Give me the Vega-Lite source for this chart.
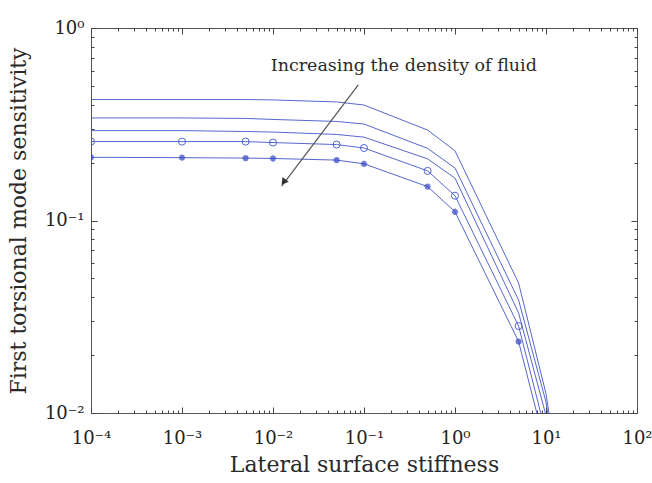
{
  "$schema": "https://vega.github.io/schema/vega-lite/v6.json",
  "autosize": {"type": "none"},
  "padding": {"left": 91, "top": 28, "right": 15, "bottom": 70},
  "width": 546,
  "height": 385,
  "background": "white",
  "config": {
    "view": {"stroke": "#555", "strokeWidth": 1},
    "axis": {
      "grid": false,
      "domain": true,
      "domainOpacity": 0,
      "ticks": true,
      "tickColor": "#444",
      "tickWidth": 1,
      "tickOpacity": 1,
      "labelFont": "DejaVu Serif",
      "titleFont": "DejaVu Serif",
      "labelColor": "#222",
      "titleColor": "#2a2a2a",
      "titleFontWeight": "normal"
    }
  },
  "datasets": {
    "curves": [
      {"x": 0.0001, "y": 0.425, "c": 1, "m": "none"},
      {"x": 0.001, "y": 0.425, "c": 1, "m": "none"},
      {"x": 0.005, "y": 0.425, "c": 1, "m": "none"},
      {"x": 0.01, "y": 0.423, "c": 1, "m": "none"},
      {"x": 0.05, "y": 0.413, "c": 1, "m": "none"},
      {"x": 0.1, "y": 0.398, "c": 1, "m": "none"},
      {"x": 0.5, "y": 0.295, "c": 1, "m": "none"},
      {"x": 1, "y": 0.23, "c": 1, "m": "none"},
      {"x": 5, "y": 0.0473, "c": 1, "m": "none"},
      {"x": 10, "y": 0.0126, "c": 1, "m": "none"},
      {"x": 100, "y": 0.00001, "c": 1, "m": "none"},
      {"x": 0.0001, "y": 0.341, "c": 2, "m": "none"},
      {"x": 0.001, "y": 0.341, "c": 2, "m": "none"},
      {"x": 0.005, "y": 0.339, "c": 2, "m": "none"},
      {"x": 0.01, "y": 0.335, "c": 2, "m": "none"},
      {"x": 0.05, "y": 0.327, "c": 2, "m": "none"},
      {"x": 0.1, "y": 0.317, "c": 2, "m": "none"},
      {"x": 0.5, "y": 0.237, "c": 2, "m": "none"},
      {"x": 1, "y": 0.1875, "c": 2, "m": "none"},
      {"x": 5, "y": 0.0386, "c": 2, "m": "none"},
      {"x": 10, "y": 0.0114, "c": 2, "m": "none"},
      {"x": 100, "y": 0.00001, "c": 2, "m": "none"},
      {"x": 0.0001, "y": 0.293, "c": 3, "m": "none"},
      {"x": 0.001, "y": 0.293, "c": 3, "m": "none"},
      {"x": 0.005, "y": 0.29, "c": 3, "m": "none"},
      {"x": 0.01, "y": 0.288, "c": 3, "m": "none"},
      {"x": 0.05, "y": 0.28, "c": 3, "m": "none"},
      {"x": 0.1, "y": 0.271, "c": 3, "m": "none"},
      {"x": 0.5, "y": 0.209, "c": 3, "m": "none"},
      {"x": 1, "y": 0.166, "c": 3, "m": "none"},
      {"x": 5, "y": 0.0331, "c": 3, "m": "none"},
      {"x": 10, "y": 0.0097, "c": 3, "m": "none"},
      {"x": 100, "y": 0.00001, "c": 3, "m": "none"},
      {"x": 0.0001, "y": 0.257, "c": 4, "m": "circle"},
      {"x": 0.001, "y": 0.257, "c": 4, "m": "circle"},
      {"x": 0.005, "y": 0.257, "c": 4, "m": "circle"},
      {"x": 0.01, "y": 0.254, "c": 4, "m": "circle"},
      {"x": 0.05, "y": 0.248, "c": 4, "m": "circle"},
      {"x": 0.1, "y": 0.238, "c": 4, "m": "circle"},
      {"x": 0.5, "y": 0.181, "c": 4, "m": "circle"},
      {"x": 1, "y": 0.1345, "c": 4, "m": "circle"},
      {"x": 5, "y": 0.0283, "c": 4, "m": "circle"},
      {"x": 10, "y": 0.0078, "c": 4, "m": "circle"},
      {"x": 100, "y": 0.00001, "c": 4, "m": "circle"},
      {"x": 0.0001, "y": 0.213, "c": 5, "m": "star"},
      {"x": 0.001, "y": 0.212, "c": 5, "m": "star"},
      {"x": 0.005, "y": 0.211, "c": 5, "m": "star"},
      {"x": 0.01, "y": 0.21, "c": 5, "m": "star"},
      {"x": 0.05, "y": 0.206, "c": 5, "m": "star"},
      {"x": 0.1, "y": 0.197, "c": 5, "m": "star"},
      {"x": 0.5, "y": 0.15, "c": 5, "m": "star"},
      {"x": 1, "y": 0.111, "c": 5, "m": "star"},
      {"x": 5, "y": 0.0235, "c": 5, "m": "star"},
      {"x": 10, "y": 0.0065, "c": 5, "m": "star"},
      {"x": 100, "y": 0.00001, "c": 5, "m": "star"}
    ],
    "note": [
      {"x": 0.00944, "y": 0.635, "label": "Increasing the density of fluid"}
    ],
    "arrow": [
      {"x": 0.0865, "y": 0.506, "x2": 0.01247, "y2": 0.151, "hx": 0.0133, "hy": 0.16}
    ]
  },
  "resolve": {"axis": {"x": "independent", "y": "independent"}},
  "layer": [
    {
      "data": {"name": "curves"},
      "mark": {"type": "line", "clip": true, "color": "#4356c8", "strokeWidth": 1, "opacity": 0.9},
      "encoding": {
        "x": {
          "field": "x", "type": "quantitative",
          "scale": {"type": "log", "domain": [0.0001, 100]},
          "axis": {
            "orient": "bottom",
            "offset": -6,
            "values": [0.0001, 0.001, 0.01, 0.1, 1, 10, 100],
            "labelExpr": "round(log(datum.value)/LN10) == -4 ? '10⁻⁴' : round(log(datum.value)/LN10) == -3 ? '10⁻³' : round(log(datum.value)/LN10) == -2 ? '10⁻²' : round(log(datum.value)/LN10) == -1 ? '10⁻¹' : round(log(datum.value)/LN10) == 0 ? '10⁰' : round(log(datum.value)/LN10) == 1 ? '10¹' : '10²'",
            "tickSize": 6,
            "labelPadding": 16,
            "labelFontSize": 18,
            "labelFlush": false,
            "title": "Lateral surface stiffness",
            "titleFontSize": 22,
            "titlePadding": 7
          }
        },
        "y": {
          "field": "y", "type": "quantitative",
          "scale": {"type": "log", "domain": [0.01, 1]},
          "axis": {
            "orient": "left",
            "offset": -6,
            "values": [0.01, 0.1, 1],
            "labelExpr": "round(log(datum.value)/LN10) == -2 ? '10⁻²' : round(log(datum.value)/LN10) == -1 ? '10⁻¹' : '10⁰'",
            "tickSize": 6,
            "labelPadding": 7,
            "labelFontSize": 18,
            "labelFlush": false,
            "title": "First torsional mode sensitivity",
            "titleFontSize": 22,
            "titlePadding": 14
          }
        },
        "detail": {"field": "c", "type": "nominal"},
        "order": {"field": "x", "type": "quantitative"}
      }
    },
    {
      "data": {"name": "curves"},
      "transform": [{"filter": "datum.m == 'circle'"}],
      "mark": {"type": "point", "clip": true, "shape": "circle", "filled": false, "stroke": "#4356c8", "strokeWidth": 1, "size": 50, "opacity": 0.9},
      "encoding": {
        "x": {
          "field": "x", "type": "quantitative",
          "scale": {"type": "log", "domain": [0.0001, 100]},
          "axis": {
            "orient": "bottom",
            "offset": -3,
            "values": [0.0002,0.0003,0.0004,0.0005,0.0006,0.0007,0.0008,0.0009,0.002,0.003,0.004,0.005,0.006,0.007,0.008,0.009,0.02,0.03,0.04,0.05,0.06,0.07,0.08,0.09,0.2,0.3,0.4,0.5,0.6,0.7,0.8,0.9,2,3,4,5,6,7,8,9,20,30,40,50,60,70,80,90],
            "labels": false, "tickSize": 3, "title": null
          }
        },
        "y": {
          "field": "y", "type": "quantitative",
          "scale": {"type": "log", "domain": [0.01, 1]},
          "axis": {
            "orient": "left",
            "offset": -3,
            "values": [0.02,0.03,0.04,0.05,0.06,0.07,0.08,0.09,0.2,0.3,0.4,0.5,0.6,0.7,0.8,0.9],
            "labels": false, "tickSize": 3, "title": null
          }
        }
      }
    },
    {
      "data": {"name": "curves"},
      "transform": [{"filter": "datum.m == 'star'"}],
      "mark": {"type": "point", "clip": true, "shape": "M0,-1L0,1M-1,0L1,0M-0.7,-0.7L0.7,0.7M-0.7,0.7L0.7,-0.7", "filled": false, "stroke": "#3347c4", "strokeWidth": 1.8, "size": 40},
      "encoding": {
        "x": {
          "field": "x", "type": "quantitative",
          "scale": {"type": "log", "domain": [0.0001, 100]},
          "axis": {
            "orient": "top",
            "offset": -6,
            "values": [0.0001, 0.001, 0.01, 0.1, 1, 10, 100],
            "labels": false, "tickSize": 6, "title": null
          }
        },
        "y": {
          "field": "y", "type": "quantitative",
          "scale": {"type": "log", "domain": [0.01, 1]},
          "axis": {
            "orient": "right",
            "offset": -6,
            "values": [0.01, 0.1, 1],
            "labels": false, "tickSize": 6, "title": null
          }
        }
      }
    },
    {
      "data": {"name": "note"},
      "mark": {"type": "text", "align": "left", "baseline": "middle", "font": "DejaVu Serif", "fontSize": 17.5, "color": "#2a2a2a"},
      "encoding": {
        "x": {
          "field": "x", "type": "quantitative",
          "scale": {"type": "log", "domain": [0.0001, 100]},
          "axis": {
            "orient": "top",
            "offset": -3,
            "values": [0.0002,0.0003,0.0004,0.0005,0.0006,0.0007,0.0008,0.0009,0.002,0.003,0.004,0.005,0.006,0.007,0.008,0.009,0.02,0.03,0.04,0.05,0.06,0.07,0.08,0.09,0.2,0.3,0.4,0.5,0.6,0.7,0.8,0.9,2,3,4,5,6,7,8,9,20,30,40,50,60,70,80,90],
            "labels": false, "tickSize": 3, "title": null
          }
        },
        "y": {
          "field": "y", "type": "quantitative",
          "scale": {"type": "log", "domain": [0.01, 1]},
          "axis": {
            "orient": "right",
            "offset": -3,
            "values": [0.02,0.03,0.04,0.05,0.06,0.07,0.08,0.09,0.2,0.3,0.4,0.5,0.6,0.7,0.8,0.9],
            "labels": false, "tickSize": 3, "title": null
          }
        },
        "text": {"field": "label"}
      }
    },
    {
      "data": {"name": "arrow"},
      "mark": {"type": "rule", "color": "#555", "strokeWidth": 1.2},
      "encoding": {
        "x": {"field": "x", "type": "quantitative", "scale": {"type": "log", "domain": [0.0001, 100]}, "axis": null},
        "y": {"field": "y", "type": "quantitative", "scale": {"type": "log", "domain": [0.01, 1]}, "axis": null},
        "x2": {"field": "x2"},
        "y2": {"field": "y2"}
      }
    },
    {
      "data": {"name": "arrow"},
      "mark": {"type": "point", "shape": "triangle", "filled": true, "color": "#333", "size": 60, "angle": 217, "opacity": 1},
      "encoding": {
        "x": {"field": "hx", "type": "quantitative", "scale": {"type": "log", "domain": [0.0001, 100]}, "axis": null},
        "y": {"field": "hy", "type": "quantitative", "scale": {"type": "log", "domain": [0.01, 1]}, "axis": null}
      }
    }
  ]
}
